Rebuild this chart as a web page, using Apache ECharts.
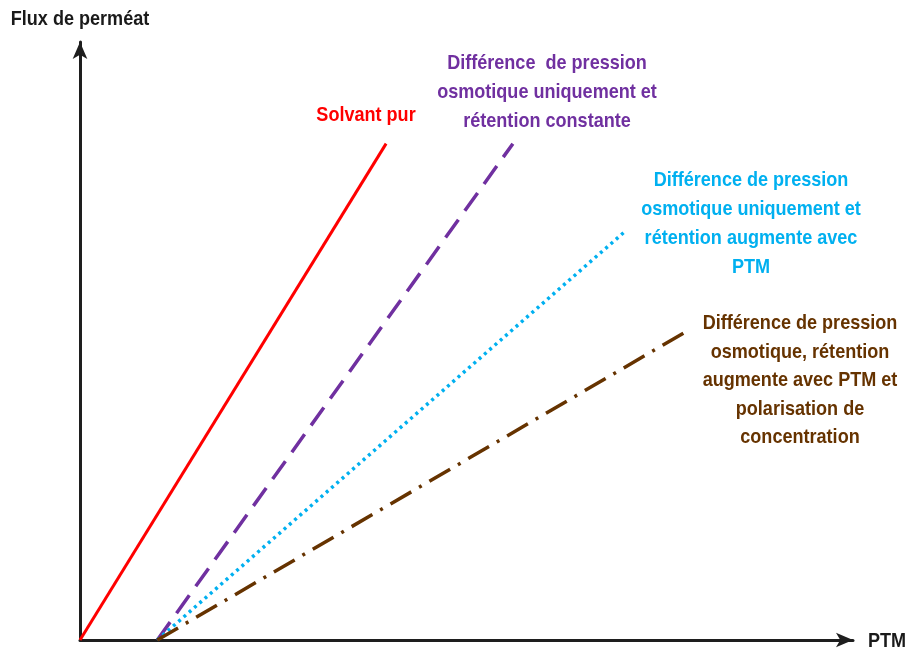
<!DOCTYPE html>
<html>
<head>
<meta charset="utf-8">
<script src="https://cdn.jsdelivr.net/npm/echarts@6/dist/echarts.min.js"></script>
<style>
  html, body { margin: 0; padding: 0; background: #ffffff; }
  #chart { width: 915px; height: 655px; }
</style>
</head>
<body>
<div id="chart"></div>
<script>
// Flux de perméat en fonction de la PTM : segments [début, fin] de chaque courbe
const solvantPur = [[0, 0], [39.6, 83]];
const pressionOsmotique = [[10, 0], [56, 83]];
const retentionPTM = [[10, 0], [70.4, 68.2]];
const polarisation = [[10, 0], [78.7, 51.8]];

const axisNames = { x: 'PTM', y: 'Flux de perméat' };

const labelTexts = {
  solvant: 'Solvant pur',
  osmotique: 'Différence  de pression\nosmotique uniquement et\nrétention constante',
  retention: 'Différence de pression\nosmotique uniquement et\nrétention augmente avec\nPTM',
  polarisation: 'Différence de pression\nosmotique, rétention\naugmente avec PTM et\npolarisation de\nconcentration'
};

const FONT = "'Liberation Sans', Arial, sans-serif";
const AXIS_COLOR = '#1e1e1e';
// narrow bold look
const SQUEEZE = 0.86;

const chart = echarts.init(document.getElementById('chart'));

function textEl(x, y, text, color, align, lineHeight) {
  return {
    type: 'text',
    x: x,
    y: y,
    scaleX: SQUEEZE,
    style: {
      x: 0,
      y: 0,
      text: text,
      fill: color,
      font: 'bold 21px ' + FONT,
      align: align || 'center',
      verticalAlign: 'top',
      lineHeight: lineHeight || 29
    }
  };
}

function axisCommon() {
  return {
    type: 'value',
    min: 0,
    max: 100,
    axisLine: {
      show: true,
      onZero: false,
      symbol: ['none', 'arrow'],
      symbolSize: [11, 17],
      lineStyle: { color: AXIS_COLOR, width: 3 }
    },
    axisTick: { show: false },
    axisLabel: { show: false },
    splitLine: { show: false }
  };
}

const option = {
  backgroundColor: '#ffffff',
  animation: false,
  grid: { left: 80, right: 62, top: 42, bottom: 15, outerBoundsMode: 'none', containLabel: false },
  xAxis: axisCommon(),
  yAxis: axisCommon(),
  series: [
    {
      type: 'line', data: solvantPur, symbol: 'none',
      lineStyle: { color: '#ff0000', width: 3, type: 'solid' }
    },
    {
      type: 'line', data: pressionOsmotique, symbol: 'none',
      lineStyle: { color: '#7030a0', width: 3.5, type: [22, 11] }
    },
    {
      type: 'line', data: retentionPTM, symbol: 'none',
      lineStyle: { color: '#00b0f0', width: 3.5, type: [3, 4] }
    },
    {
      type: 'line', data: polarisation, symbol: 'none',
      lineStyle: { color: '#663300', width: 3.5, type: [24, 9, 3, 9] }
    }
  ],
  graphic: [
    textEl(80, 5, axisNames.y, '#1a1a1a', 'center'),
    textEl(868, 627, axisNames.x, '#1a1a1a', 'left'),
    textEl(366, 101, labelTexts.solvant, '#ff0000'),
    textEl(547, 49, labelTexts.osmotique, '#7030a0'),
    textEl(751, 166, labelTexts.retention, '#00b0f0'),
    textEl(800, 309, labelTexts.polarisation, '#663300', 'center', 28.5)
  ]
};

chart.setOption(option);
</script>
</body>
</html>
